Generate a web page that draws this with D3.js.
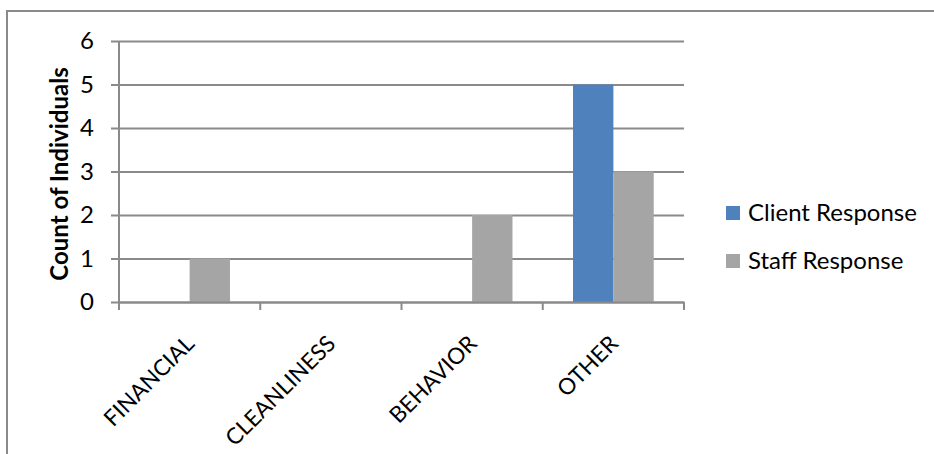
<!DOCTYPE html>
<html>
<head>
<meta charset="utf-8">
<script src="https://cdn.jsdelivr.net/npm/d3@7"></script>
<style>
  html, body { margin: 0; padding: 0; background: #fff; }
  svg { display: block; }
  text { font-family: Lato, "Open Sans", sans-serif; fill: #000; }
</style>
</head>
<body>
<svg id="chart" width="934" height="454"></svg>
<script>
const categories = ["FINANCIAL", "CLEANLINESS", "BEHAVIOR", "OTHER"];
const seriesNames = ["Client Response", "Staff Response"];
const clientValues = [0, 0, 0, 5];
const staffValues = [1, 0, 2, 3];
const yTicks = [0, 1, 2, 3, 4, 5, 6];
const colors = ["#4F81BD", "#A5A5A5"];

const svg = d3.select("#chart");
const W = 934, H = 454;
const margin = { left: 119, right: 250, top: 41, bottom: 152 };
const plotW = W - margin.left - margin.right;
const plotH = H - margin.top - margin.bottom;

// Outer chart frame (only the top and left edges fall inside the view)
svg.append("rect")
  .attr("x", 7).attr("y", 11)
  .attr("width", 1000).attr("height", 1000)
  .attr("fill", "none")
  .attr("stroke", "#8a8a8a")
  .attr("stroke-width", 2);

const g = svg.append("g").attr("transform", `translate(${margin.left},${margin.top})`);

const x0 = d3.scaleBand().domain(categories).range([0, plotW]).paddingInner(0).paddingOuter(0);
const x1 = d3.scaleBand().domain(seriesNames).range([0, x0.bandwidth()]).paddingInner(0).paddingOuter(0.75);
const y = d3.scaleLinear().domain([0, 6]).range([plotH, 0]);

// Horizontal gridlines with left tick stubs
const yAxis = d3.axisLeft(y).tickValues(yTicks).tickSize(-plotW).tickFormat(d3.format("d"));
const yG = g.append("g").call(yAxis);
yG.select(".domain").remove();
yG.selectAll(".tick line")
  .attr("x1", -8).attr("x2", plotW)
  .attr("stroke", "#8a8a8a").attr("stroke-width", 2);
yG.selectAll(".tick text")
  .attr("x", -25)
  .style("font-size", "24px");

// Y axis line
g.append("line")
  .attr("x1", 0).attr("x2", 0).attr("y1", 0).attr("y2", plotH + 8)
  .attr("stroke", "#8a8a8a").attr("stroke-width", 2);

// Bars
const rows = categories.map((c, i) => ({ cat: c, vals: [clientValues[i], staffValues[i]] }));
const groups = g.selectAll(".grp").data(rows).join("g")
  .attr("transform", d => `translate(${x0(d.cat)},0)`);
groups.selectAll("rect")
  .data(d => d.vals.map((v, k) => ({ name: seriesNames[k], v, k })))
  .join("rect")
  .attr("x", d => x1(d.name))
  .attr("width", x1.bandwidth())
  .attr("y", d => y(d.v))
  .attr("height", d => plotH - y(d.v))
  .attr("fill", d => colors[d.k]);

// X axis
const xAxis = d3.axisBottom(x0).tickSize(0).tickSizeOuter(0).tickFormat(d => d);
const xG = g.append("g").attr("transform", `translate(0,${plotH})`).call(xAxis);
xG.select(".domain").attr("stroke", "#8a8a8a").attr("stroke-width", 2);
xG.selectAll(".tick text")
  .attr("text-anchor", "end")
  .attr("transform", "translate(1,38) rotate(-45)")
  .attr("dy", "0.32em")
  .attr("y", 0).attr("x", 0)
  .style("font-size", "22.5px");
// Category boundary ticks
const boundaries = d3.range(categories.length + 1).map(i => i * x0.bandwidth());
g.selectAll(".xtick").data(boundaries).join("line")
  .attr("x1", d => d).attr("x2", d => d)
  .attr("y1", plotH).attr("y2", plotH + 8)
  .attr("stroke", "#8a8a8a").attr("stroke-width", 2);

// Y axis title
svg.append("text")
  .attr("transform", `translate(68,${margin.top + 133}) rotate(-90)`)
  .attr("text-anchor", "middle")
  .style("font-size", "24px")
  .style("font-weight", "bold")
  .text("Count of Individuals");

// Legend
const legend = svg.append("g").attr("transform", "translate(726,0)");
const legendY = [213, 261];
seriesNames.forEach((name, k) => {
  legend.append("rect")
    .attr("x", 0).attr("y", legendY[k] - 7)
    .attr("width", 14).attr("height", 14)
    .attr("fill", colors[k]);
  legend.append("text")
    .attr("x", 22).attr("y", legendY[k])
    .attr("dy", "0.35em")
    .style("font-size", "24px")
    .text(name);
});
</script>
</body>
</html>
